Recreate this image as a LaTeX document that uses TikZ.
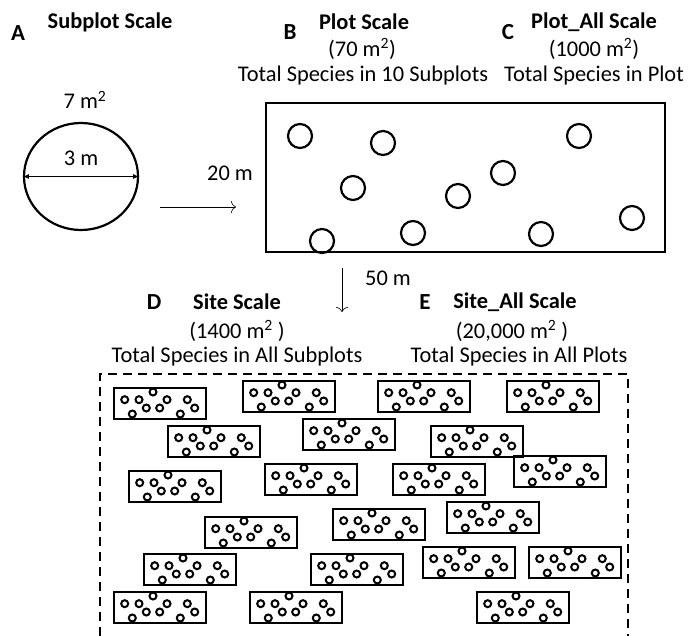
\documentclass[tikz,border=0pt]{standalone}
\usepackage{fontspec}
\setmainfont{Carlito}
\usepackage{tikz}
\usetikzlibrary{arrows.meta,positioning,shapes.geometric}
\tikzset{
  lbl/.style={font=\fontsize{22.4}{26}\selectfont,inner sep=0pt},
  hdr/.style={font=\fontsize{22.4}{26}\selectfont\bfseries,inner sep=0pt},
  letter/.style={font=\fontsize{23}{26}\selectfont\bfseries,inner sep=0pt},
  subplot/.style={circle,draw,line width=2.2pt,minimum size=24pt,inner sep=0pt},
  dot/.style={line width=2pt},
  minibox/.style={line width=2.2pt},
  scalearr/.style={-{To[length=5pt,width=12pt]},line width=0.6pt},
  diam/.style={{Latex[length=6pt,width=5pt]}-{Latex[length=6pt,width=5pt]},line width=1pt},
  miniplot/.pic={
    \draw[minibox] (0,0) rectangle (92,31);
    \foreach \px/\py in {10.7/11.7,25/11.7,39/4,53/11.7,32.3/20,45.7/20,18.3/26,73.3/11.7,80.7/20,66.3/26}
      \draw[dot] (\px,\py) circle[radius=3.5];
  },
}

\begin{document}
\begin{tikzpicture}[x=1pt,y=-1pt]
  \useasboundingbox (0,0) rectangle (688,636);
  % A: subplot
  \node[letter] (la) at (18,33) {A};
  \node[hdr] (ta) at (110,22) {Subplot Scale};
  \node[lbl] (area) at (85,100) {7 m\textsuperscript{2}};
  \node[ellipse,draw,line width=2.2pt,minimum width=114pt,minimum height=107pt,inner sep=0pt] (sub) at (81,176.5) {};
  \draw[diam] (sub.west) -- (sub.east);
  \node[lbl] (dia) at (81,158) {3 m};
  % B, C: plot
  \node[letter] (lb) at (290,32) {B};
  \node[hdr] (tb) at (364,22) {Plot Scale};
  \node[lbl] (ab) at (362,49) {(70 m\textsuperscript{2})};
  \node[lbl] (sb) at (363,76) {Total Species in 10 Subplots};
  \node[letter] (lc) at (508,32) {C};
  \node[hdr] (tc) at (594,22) {Plot\_All Scale};
  \node[lbl] (ac) at (594,49) {(1000 m\textsuperscript{2})};
  \node[lbl] (sc) at (594,76) {Total Species in Plot};
  \node[draw,line width=2.2pt,minimum width=399pt,minimum height=149pt,inner sep=0pt] (plot) at (465.5,177.5) {};
  \node[lbl] (width) at (230,173) {20 m};
  \foreach \cx/\cy [count=\i] in {300/136,383/143,353/188,458/196,503/173,579/136,632/218,322/241,413/233,541/234}
    \node[subplot] (s\i) at (\cx,\cy) {};
  \coordinate (ra) at (160,207);
  \coordinate (rb) at (236,207);
  \draw[scalearr] (ra) -- (rb);
  \coordinate (da) at (342,268);
  \coordinate (db) at (342,312);
  \draw[scalearr] (da) -- (db);
  \node[lbl] (len) at (388,278) {50 m};
  % D, E: site
  \node[letter] (ld) at (154,302) {D};
  \node[hdr] (td) at (237,302) {Site Scale};
  \node[lbl] (ad) at (237,331) {(1400 m\textsuperscript{2} )};
  \node[lbl] (sd) at (237,357) {Total Species in All Subplots};
  \node[letter] (le) at (425,302) {E};
  \node[hdr] (te) at (515,302) {Site\_All Scale};
  \node[lbl] (ae) at (512,331) {(20,000 m\textsuperscript{2} )};
  \node[lbl] (se) at (519,357) {Total Species in All Plots};
  \draw[line width=2pt,dash pattern=on 9pt off 6pt] (100,636) -- (100,374) -- (628,374) -- (628,636);
  \foreach \bx/\by in {114/388,243/381,378/381,507/381,
                       168/426,303/419,431/426,
                       129/471,265/464,393/464,514/456,
                       205/517,333/509,447/502,
                       144/554,311/554,423/547,529/547,
                       114/592,250/592,477/592}
    \pic at (\bx,\by) {miniplot};
\end{tikzpicture}
\end{document}
